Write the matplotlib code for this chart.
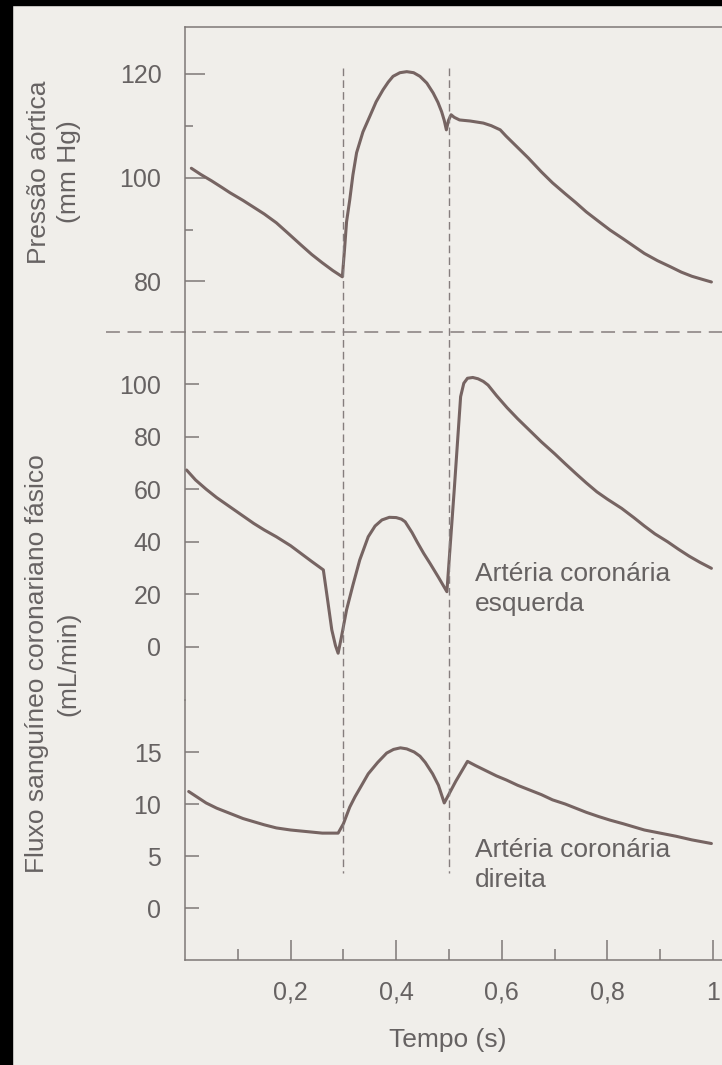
import matplotlib.pyplot as plt
import matplotlib.transforms as mtransforms
from matplotlib.lines import Line2D
from matplotlib.patches import Rectangle

plt.rcParams['font.family'] = ['Liberation Sans', 'DejaVu Sans']
plt.rcParams['lines.scale_dashes'] = False

## data
# aortic pressure (mm Hg)
t_aorta = [0.012, 0.03, 0.05, 0.07, 0.085, 0.11, 0.13, 0.15, 0.173, 0.195, 0.22, 0.24,
           0.26, 0.28, 0.298, 0.302, 0.306, 0.312, 0.318, 0.325, 0.337, 0.35, 0.362,
           0.375, 0.385, 0.394, 0.407, 0.42, 0.433, 0.445, 0.458, 0.47, 0.479, 0.486,
           0.491, 0.495, 0.499, 0.504, 0.51, 0.52, 0.54, 0.565, 0.58, 0.597, 0.608,
           0.63, 0.65, 0.675, 0.696, 0.72, 0.74, 0.76, 0.783, 0.805, 0.83, 0.85, 0.87,
           0.895, 0.92, 0.94, 0.96, 0.98, 0.997]
p_aorta = [101.8, 100.6, 99.4, 98.1, 97.1, 95.6, 94.3, 93.0, 91.3, 89.3, 87.0, 85.2,
           83.6, 82.1, 80.9, 86.0, 91.5, 95.7, 100.5, 104.8, 108.8, 111.8, 114.6,
           116.9, 118.4, 119.5, 120.2, 120.4, 120.2, 119.5, 118.2, 116.3, 114.5, 112.7,
           111.0, 109.2, 111.0, 112.1, 111.6, 111.1, 110.9, 110.5, 110.0, 109.2, 108.0,
           105.8, 103.8, 101.1, 99.0, 96.9, 95.2, 93.4, 91.6, 89.9, 88.2, 86.8, 85.4,
           84.0, 82.8, 81.8, 81.0, 80.4, 79.9]

# left coronary artery flow (mL/min)
t_left = [0.003, 0.02, 0.04, 0.06, 0.085, 0.11, 0.13, 0.15, 0.173, 0.2, 0.22, 0.24,
          0.262, 0.27, 0.278, 0.285, 0.29, 0.296, 0.306, 0.318, 0.331, 0.347, 0.36,
          0.373, 0.387, 0.40, 0.41, 0.417, 0.43, 0.44, 0.452, 0.464, 0.48, 0.496,
          0.51, 0.522, 0.528, 0.535, 0.545, 0.555, 0.565, 0.574, 0.59, 0.61, 0.63,
          0.652, 0.675, 0.70, 0.72, 0.74, 0.76, 0.78, 0.80, 0.827, 0.85, 0.87, 0.89,
          0.914, 0.935, 0.955, 0.975, 0.997]
flow_left = [67.3, 63.5, 60.0, 56.8, 53.3, 49.8, 47.0, 44.5, 41.9, 38.5, 35.5, 32.5,
             29.3, 18.0, 6.5, 0.5, -2.4, 3.5, 14.1, 23.5, 33.1, 41.9, 46.0,
             48.3, 49.3, 49.2, 48.6, 47.6, 43.5, 39.8, 35.6, 31.8, 26.5, 21.0,
             60.0, 95.2, 100.3, 102.2, 102.5, 102.0, 101.0, 99.6, 95.6, 91.0, 86.8,
             82.5, 78.0, 73.5, 69.7, 66.0, 62.4, 59.0, 56.2, 52.7, 49.2, 46.0, 43.0,
             40.0, 37.1, 34.5, 32.2, 29.9]

# right coronary artery flow (mL/min)
t_right = [0.007, 0.025, 0.04, 0.06, 0.085, 0.11, 0.13, 0.15, 0.173, 0.2, 0.22, 0.24,
           0.26, 0.29, 0.30, 0.312, 0.322, 0.33, 0.347, 0.365, 0.382, 0.395, 0.408,
           0.42, 0.434, 0.445, 0.455, 0.469, 0.48, 0.491, 0.513, 0.535, 0.55, 0.57,
           0.59, 0.609, 0.63, 0.65, 0.675, 0.696, 0.72, 0.74, 0.76, 0.783, 0.805,
           0.83, 0.85, 0.87, 0.9, 0.93, 0.96, 0.997]
flow_right = [11.2, 10.6, 10.1, 9.6, 9.1, 8.6, 8.3, 8.0, 7.7, 7.5, 7.4, 7.3,
              7.2, 7.2, 8.1, 9.7, 10.7, 11.4, 12.9, 14.0, 14.9, 15.25, 15.4,
              15.3, 15.0, 14.6, 14.0, 12.9, 11.8, 10.1, 12.2, 14.1, 13.7, 13.2,
              12.7, 12.3, 11.8, 11.4, 10.9, 10.4, 10.0, 9.6, 9.2, 8.8, 8.45,
              8.1, 7.8, 7.5, 7.2, 6.9, 6.55, 6.2]

x_ticks = [0.2, 0.4, 0.6, 0.8, 1.0]
x_ticklabels = ["0,2", "0,4", "0,6", "0,8", "1"]
x_minor = [0.1, 0.3, 0.5, 0.7, 0.9]
p_ticks = [80, 100, 120]
p_minor = [90, 110]
left_ticks = [0, 20, 40, 60, 80, 100]
right_ticks = [0, 5, 10, 15]
systole = [0.3, 0.5]

paper = "#f0eeea"
ink = "#766462"
axcol = "#7e7876"
txt = "#666262"

W, H = 722, 1065
fig = plt.figure(figsize=(W/100, H/100), dpi=100)
fig.patch.set_facecolor(paper)

def px(x0, y0, x1, y1):
    return [x0/W, 1 - y1/H, (x1 - x0)/W, (y1 - y0)/H]

ax_p = fig.add_axes(px(185, 27, 722, 332))
ax_l = fig.add_axes(px(185, 332, 722, 700))
ax_r = fig.add_axes(px(185, 700, 722, 960))

for ax in (ax_p, ax_l, ax_r):
    ax.set_facecolor("none")
    ax.set_xlim(0, 537/528)
    for s in ax.spines.values():
        s.set_visible(False)
    ax.spines["left"].set_visible(True)
    ax.spines["left"].set_color(axcol)
    ax.spines["left"].set_linewidth(1.1)
    ax.tick_params(axis="y", which="both", direction="in", color=axcol, width=1.1,
                   labelsize=18, labelcolor=txt, pad=17)
    ax.tick_params(axis="x", which="both", bottom=False, labelbottom=False)

ax_p.spines["top"].set_visible(True)
ax_p.spines["top"].set_color(axcol)
ax_p.spines["top"].set_linewidth(1.1)
ax_r.spines["bottom"].set_visible(True)
ax_r.spines["bottom"].set_color(axcol)
ax_r.spines["bottom"].set_linewidth(1.1)

## curves
for ax, tt, yy in ((ax_p, t_aorta, p_aorta), (ax_l, t_left, flow_left), (ax_r, t_right, flow_right)):
    ax.plot(tt, yy, color=ink, lw=2.2, solid_joinstyle="round", solid_capstyle="round")

## y axes
ax_p.set_ylim(70.27, 129.0)
ax_p.set_yticks(p_ticks)
ax_p.set_yticks(p_minor, minor=True)
ax_p.tick_params(axis="y", which="major", length=14.4)
ax_p.tick_params(axis="y", which="minor", length=6)

ax_l.set_ylim(-20.2, 119.8)
ax_l.set_yticks(left_ticks)
ax_l.tick_params(axis="y", which="major", length=10)

ax_r.set_ylim(-5.0, 20.0)
ax_r.set_yticks(right_ticks)
ax_r.tick_params(axis="y", which="major", length=10)

## x axis
ax_r.set_xticks(x_ticks)
ax_r.set_xticklabels(x_ticklabels)
ax_r.set_xticks(x_minor, minor=True)
ax_r.tick_params(axis="x", which="both", bottom=True, labelbottom=True, direction="in",
                 color=axcol, width=1.1, labelsize=18, labelcolor=txt, pad=15)
ax_r.tick_params(axis="x", which="major", length=14.4)
ax_r.tick_params(axis="x", which="minor", length=8)

## dashed guide lines
vtrans = mtransforms.blended_transform_factory(ax_r.transData, fig.transFigure)
for ts in systole:
    fig.add_artist(Line2D([ts, ts], [1 - 68/H, 1 - 873/H], transform=vtrans,
                          color="#857d7d", lw=1.0, linestyle=(0, (5.5, 3))))
fig.add_artist(Line2D([106/W, 1], [1 - 332/H, 1 - 332/H], transform=fig.transFigure,
                      color="#857d7d", lw=1.1, linestyle=(0, (10, 5.5))))

## texts
fig.text(54/W, 1 - 172/H, "Pressão aórtica\n(mm Hg)", rotation=90, ha="center",
         va="center", multialignment="center", fontsize=19, color=txt, linespacing=1.35)
fig.text(53/W, 1 - 664/H, "Fluxo sanguíneo coronariano fásico\n(mL/min)", rotation=90,
         ha="center", va="center", multialignment="center", fontsize=19, color=txt,
         linespacing=1.4)
fig.text(475/W, 1 - 589/H, "Artéria coronária\nesquerda", ha="left", va="center",
         fontsize=19, color=txt, linespacing=1.35)
fig.text(475/W, 1 - 865/H, "Artéria coronária\ndireita", ha="left", va="center",
         fontsize=19, color=txt, linespacing=1.35)
fig.text(448/W, 1 - 1040/H, "Tempo (s)", ha="center", va="center", fontsize=19, color=txt)

## scan borders
fig.add_artist(Rectangle((0, 1 - 5/H), 1, 5/H, transform=fig.transFigure, color="black"))
fig.add_artist(Rectangle((0, 0), 12/W, 1, transform=fig.transFigure, color="black"))

fig.savefig("out.png", dpi=100, facecolor=fig.get_facecolor())
plt.close(fig)
